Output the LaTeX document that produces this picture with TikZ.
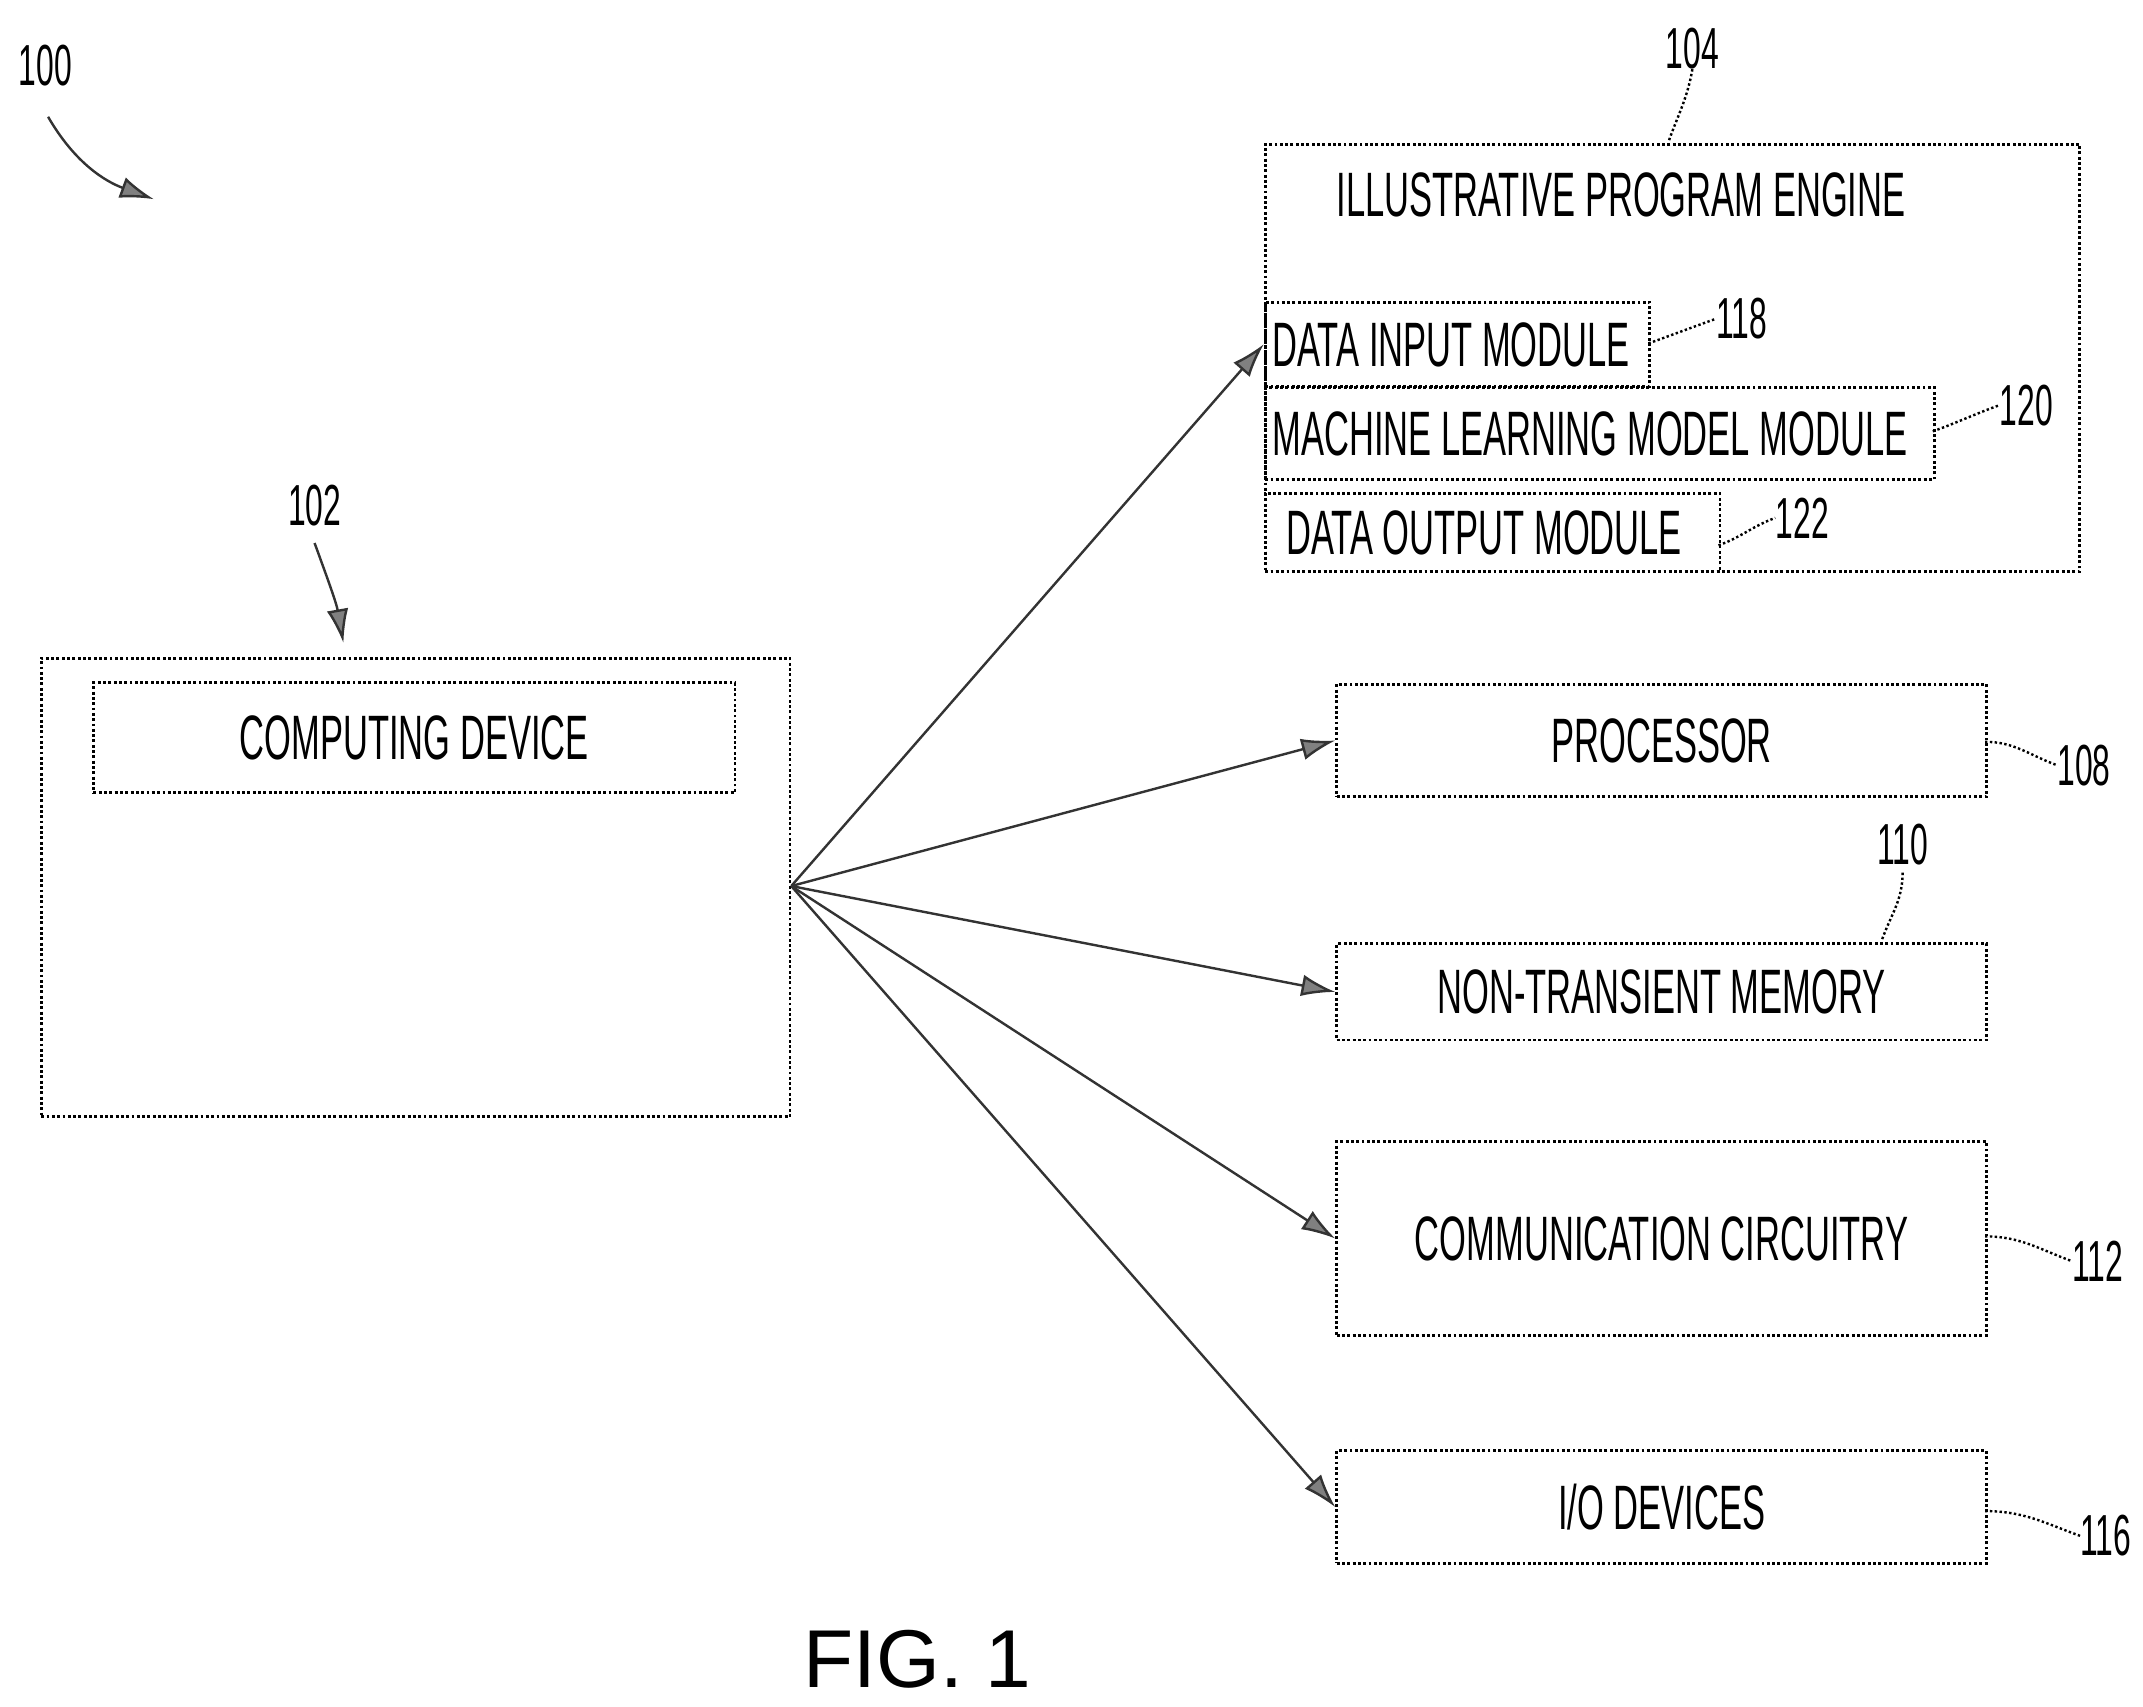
\documentclass[tikz,border=0pt]{standalone}
\usepackage{fontspec}
\setmainfont{Liberation Sans}
\usetikzlibrary{positioning, arrows.meta}
\newcommand{\nar}[1]{\scalebox{0.55}[1]{#1}}
\begin{document}
\begin{tikzpicture}[x=0.02cm,y=-0.02cm,
		box/.style={draw,line width=1.2pt,densely dotted,inner sep=0pt},
		txt/.style={font=\fontsize{26}{28}\selectfont,inner sep=0pt},
		ref/.style={font=\fontsize{24}{26}\selectfont,inner sep=0pt},
		lead/.style={line width=1pt,densely dotted},
		arr/.style={line width=1pt,draw=black!80,-{Latex[length=14pt,width=9pt,fill=gray]}}]
		\useasboundingbox (0,0) rectangle (1560,1242);
		% reference numerals
		\node[ref] (n100) at (33,48) {\nar{100}};
		\coordinate (a100) at (112,145);
		\draw[arr] (35,85) to[out=-60,in=160] (a100);
		\node[ref] (n102) at (229,368) {\nar{102}};
		\coordinate (a102) at (250,468);
		\draw[arr] (n102.south) ++(0,12) to[out=-70,in=100] (a102);
		% computing device
		\node[box,minimum width=545*0.02cm,minimum height=334*0.02cm,anchor=north west] (dev) at (29,478) {};
		\node[box,minimum width=467*0.02cm,minimum height=80*0.02cm,anchor=north west] (devin) at (67,496) {};
		\node[txt] at (devin.center) {\nar{COMPUTING DEVICE}};
		\coordinate (hub) at (576,645);
		% engine
		\node[box,minimum width=593*0.02cm,minimum height=311*0.02cm,anchor=north west] (eng) at (920,104) {};
		\node[txt] at (1180,142) {\nar{ILLUSTRATIVE PROGRAM ENGINE}};
		\node[box,minimum width=280*0.02cm,minimum height=61*0.02cm,anchor=north west] (din) at (920,219) {};
		\node[txt,anchor=west] at (926,251) {\nar{DATA INPUT MODULE}};
		\node[box,minimum width=487*0.02cm,minimum height=67*0.02cm,anchor=north west] (ml) at (920,281) {};
		\node[txt,anchor=west] at (926,316) {\nar{MACHINE LEARNING MODEL MODULE}};
		\node[box,minimum width=331*0.02cm,minimum height=57*0.02cm,anchor=north west] (dout) at (920,358) {};
		\node[txt,anchor=west] at (936,388) {\nar{DATA OUTPUT MODULE}};
		\node[ref] (n104) at (1232,35) {\nar{104}};
		\node[ref] (n118) at (1268,232) {\nar{118}};
		\node[ref] (n120) at (1475,295) {\nar{120}};
		\node[ref] (n122) at (1312,377) {\nar{122}};
		\draw[lead] (1215,102) to[out=70,in=-100] (n104.south);
		\draw[lead] (1200,250) to[out=20,in=200] (n118.west);
		\draw[lead] (1407,314) to[out=20,in=200] (n120.west);
		\draw[lead] (1251,397) to[out=20,in=200] (n122.west);
		% right column
		\node[box,minimum width=473*0.02cm,minimum height=82*0.02cm,anchor=north west] (proc) at (972,497) {};
		\node[txt] at (proc.center) {\nar{PROCESSOR}};
		\node[box,minimum width=473*0.02cm,minimum height=70*0.02cm,anchor=north west] (mem) at (972,686) {};
		\node[txt] at (mem.center) {\nar{NON-TRANSIENT MEMORY}};
		\node[box,minimum width=473*0.02cm,minimum height=141*0.02cm,anchor=north west] (comm) at (972,830) {};
		\node[txt] at (comm.center) {\nar{COMMUNICATION CIRCUITRY}};
		\node[box,minimum width=473*0.02cm,minimum height=82*0.02cm,anchor=north west] (io) at (972,1055) {};
		\node[txt] at (io.center) {\nar{I/O DEVICES}};
		\node[ref] (n108) at (1517,557) {\nar{108}};
		\node[ref] (n110) at (1385,615) {\nar{110}};
		\node[ref] (n112) at (1527,918) {\nar{112}};
		\node[ref] (n116) at (1533,1118) {\nar{116}};
		\draw[lead] (1445,540) to[out=0,in=160] (n108.west);
		\draw[lead] (n110.south) ++(0,5) to[out=-90,in=70] (1370,684);
		\draw[lead] (1445,900) to[out=0,in=160] (n112.west);
		\draw[lead] (1445,1100) to[out=0,in=160] (n116.west);
		% connectors
		\draw[arr] (hub) -- (din.west);
		\draw[arr] (hub) -- (proc.west);
		\draw[arr] (hub) -- (mem.west);
		\draw[arr] (hub) -- (comm.west);
		\draw[arr] (hub) -- (io.west);
		\node[font=\fontsize{34}{36}\selectfont] (fig) at (668,1208) {FIG. 1};
\end{tikzpicture}
\end{document}
